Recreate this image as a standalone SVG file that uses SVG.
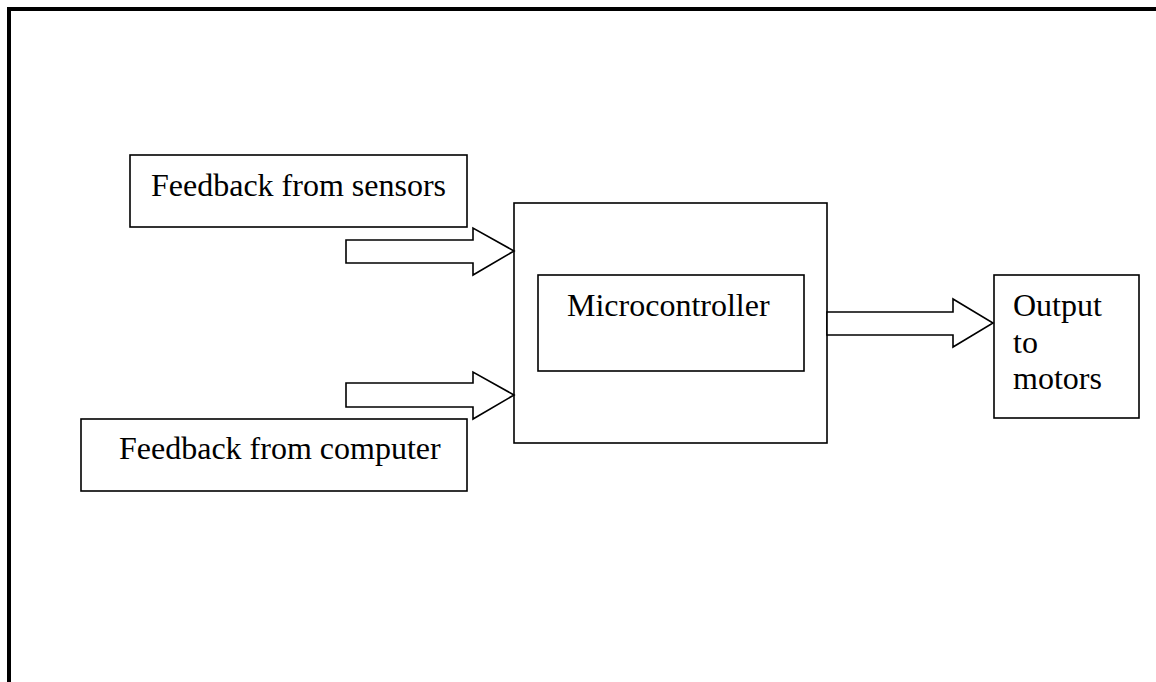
<svg xmlns="http://www.w3.org/2000/svg" width="1156" height="682" viewBox="0 0 1156 682">
  <style>
    .box { fill: #fff; stroke: #000; stroke-width: 1.6; }
    .arrow { fill: #fff; stroke: #000; stroke-width: 1.6; stroke-linejoin: miter; }
    .label { font-family: "Liberation Serif", "Times New Roman", serif; font-size: 32px; fill: #000; }
  </style>
  <rect width="1156" height="682" fill="#fff"/>
  <!-- page frame (open to the right and bottom) -->
  <rect x="9" y="9" width="1200" height="800" fill="none" stroke="#000" stroke-width="4"/>

  <g id="sensors">
    <rect class="box" x="130" y="155" width="337" height="72"/>
    <text class="label" x="151" y="196">Feedback from sensors</text>
  </g>

  <g id="computer">
    <rect class="box" x="81" y="419" width="386" height="72"/>
    <text class="label" x="119" y="459">Feedback from computer</text>
  </g>

  <g id="microcontroller">
    <rect class="box" x="514" y="203" width="313" height="240"/>
    <rect class="box" x="538" y="275" width="266" height="96"/>
    <text class="label" x="567" y="316">Microcontroller</text>
  </g>

  <g id="motors">
    <rect class="box" x="994" y="275" width="145" height="143"/>
    <text class="label" x="1013" y="316">Output</text>
    <text class="label" x="1013" y="353">to</text>
    <text class="label" x="1013" y="389">motors</text>
  </g>

  <g id="connectors">
    <polygon class="arrow" points="346,240 473,240 473,228 514,251 473,275 473,263 346,263"/>
    <polygon class="arrow" points="346,383 473,383 473,372 514,395 473,419 473,407 346,407"/>
    <polygon class="arrow" points="827,312 953,312 953,299 993,323 953,347 953,335 827,335"/>
  </g>
</svg>
